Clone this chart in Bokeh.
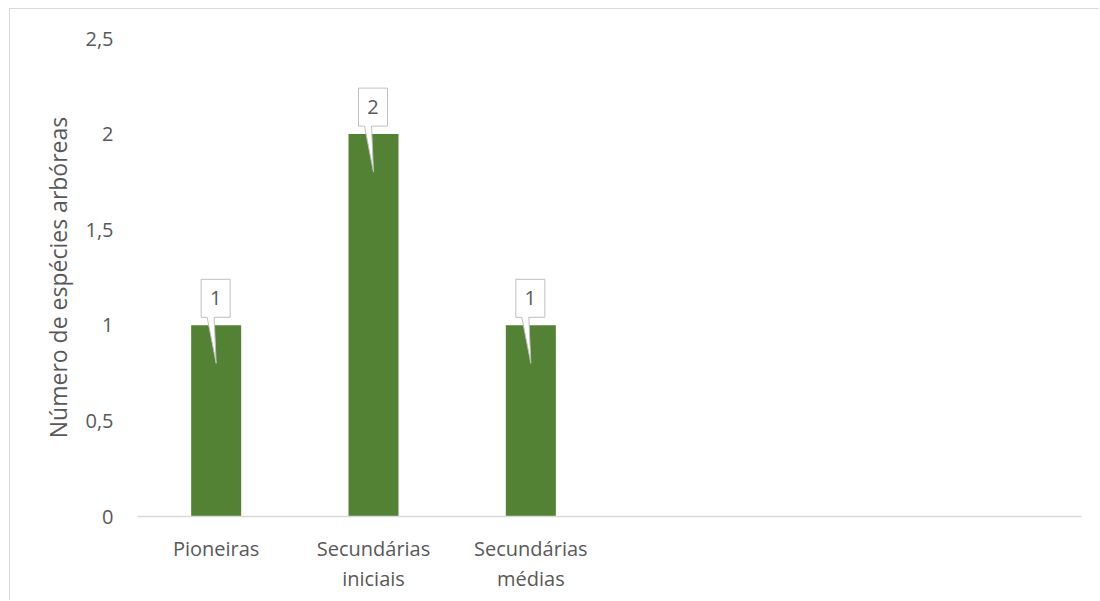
from bokeh.plotting import figure
from bokeh.models import Range1d, FixedTicker, ColumnDataSource
from bokeh.core.properties import value
from bokeh.embed import file_html
from bokeh.resources import INLINE

# ---- data ----
categories = ["Pioneiras", "Secundárias\niniciais", "Secundárias\nmédias"]
values = [1, 2, 1]
n_slots = 6
y_ticks = [0, 0.5, 1, 1.5, 2, 2.5]
y_tick_labels = ["0", "0,5", "1", "1,5", "2", "2,5"]
y_label = "Número de espécies arbóreas"

# ---- layout constants ----
W, H = 1090, 592
ML, MR, MT, MB = 127, 19, 29, 85
FW, FH = W - ML - MR, H - MT - MB
Y_MAX = 2.5
XPX = FW / n_slots      # px per x unit
YPX = FH / Y_MAX        # px per y unit
FONT = "Open Sans"
TXT = "#595959"
GREEN = "#548235"

p = figure(width=W, height=H, output_backend="svg", toolbar_location=None,
           x_range=Range1d(0, n_slots), y_range=Range1d(0, Y_MAX),
           min_border_left=ML, min_border_right=MR,
           min_border_top=MT, min_border_bottom=MB)
p.styles = {"margin-left": "9px", "margin-top": "8px",
            "border-top": "1px solid #d9d9d9", "border-left": "1px solid #d9d9d9"}
p.outline_line_color = None
p.xgrid.visible = False
p.ygrid.visible = False
p.background_fill_color = "white"
p.border_fill_color = "white"

xc = [i + 0.5 for i in range(len(categories))]
src = ColumnDataSource(dict(x=xc, top=values, label=[str(v) for v in values]))
p.vbar(x="x", top="top", width=50 / XPX, source=src, fill_color=GREEN, line_color=None)

# callouts (box + pointer), sized in pixels relative to each data point
xs, ys = [], []
for x, v in zip(xc, values):
    def px(dx):
        return x + dx / XPX
    def py(dy):
        return v + dy / YPX
    xs.append([px(-15), px(14), px(14), px(-2), px(0), px(-9), px(-15)])
    ys.append([py(46), py(46), py(8), py(8), py(-38), py(8), py(8)])
p.patches(xs, ys, fill_color="white", line_color="#bfbfbf", line_width=1)
p.text(x="x", y="top", text="label", source=src, x_offset=-0.5, y_offset=-27,
       text_align="center", text_baseline="middle", text_color=TXT,
       text_font=value(FONT), text_font_size="20px")

# x axis
xa = p.xaxis[0]
xa.ticker = FixedTicker(ticks=xc)
xa.major_label_overrides = {t: c for t, c in zip(xc, categories)}
xa.major_tick_out = 0
xa.major_tick_in = 0
xa.minor_tick_out = 0
xa.minor_tick_in = 0
xa.axis_line_color = "#d9d9d9"
xa.axis_line_width = 1.5
xa.major_label_text_font = FONT
xa.major_label_text_font_size = "20px"
xa.major_label_text_color = TXT
xa.major_label_standoff = 18
xa.major_label_text_line_height = 1.12

# y axis
ya = p.yaxis[0]
ya.ticker = FixedTicker(ticks=y_ticks)
ya.major_label_overrides = {t: l for t, l in zip(y_ticks, y_tick_labels)}
ya.major_tick_out = 0
ya.major_tick_in = 0
ya.minor_tick_out = 0
ya.minor_tick_in = 0
ya.axis_line_color = None
ya.major_label_text_font = FONT
ya.major_label_text_font_size = "20px"
ya.major_label_text_color = TXT
ya.major_label_standoff = 24
ya.axis_label = y_label
ya.axis_label_text_font = FONT
ya.axis_label_text_font_size = "23px"
ya.axis_label_text_font_style = "normal"
ya.axis_label_text_color = TXT
ya.axis_label_standoff = 8

open("out.html", "w").write(file_html(p, INLINE))
